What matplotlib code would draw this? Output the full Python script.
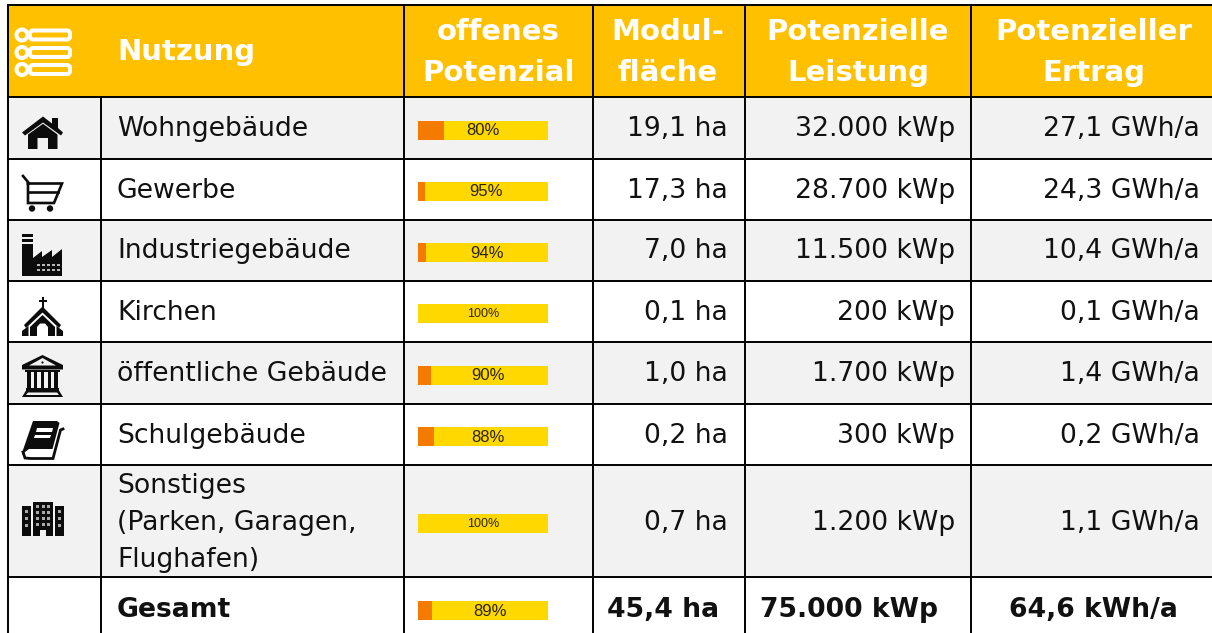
import matplotlib
matplotlib.use('Agg')
import matplotlib.pyplot as plt
from matplotlib.patches import Polygon, Circle, Rectangle, FancyBboxPatch

# Daten
nutzung = ['Wohngebäude', 'Gewerbe', 'Industriegebäude', 'Kirchen', 'öffentliche Gebäude',
           'Schulgebäude', 'Sonstiges\n(Parken, Garagen,\nFlughafen)']
offen = [80, 95, 94, 100, 90, 88, 100]
flaeche = ['19,1 ha', '17,3 ha', '7,0 ha', '0,1 ha', '1,0 ha', '0,2 ha', '0,7 ha']
leistung = ['32.000 kWp', '28.700 kWp', '11.500 kWp', '200 kWp', '1.700 kWp', '300 kWp', '1.200 kWp']
ertrag = ['27,1 GWh/a', '24,3 GWh/a', '10,4 GWh/a', '0,1 GWh/a', '1,4 GWh/a', '0,2 GWh/a', '1,1 GWh/a']
gesamt = ['Gesamt', '45,4 ha', '75.000 kWp', '64,6 kWh/a']
gesamt_offen = 89
kopf = ['offenes\nPotenzial', 'Modul-\nfläche', 'Potenzielle\nLeistung', 'Potenzieller\nErtrag']

# Layout in Pixeln
spalten = [8, 100.5, 404, 593, 745, 971, 1212]
zeilen = [97, 158.5, 220, 281, 342, 403.5, 464.5, 577, 633]
basis = [136, 198, 258, 320, 381, 443, 493, 617]
kopf_x = [498.5, 668, 858, 1094]
label_x = [483, 486, 487, 483, 488, 488, 483, 490]
TXT = '#111111'
DUNKEL = '#0c0c0c'
FS = 19.2
FS_KOPF = 21
FS_GES = 19.2

fig = plt.figure(figsize=(12.12, 6.33), dpi=100)
ax = fig.add_axes([0, 0, 1, 1])
ax.set_xlim(0, 1212)
ax.set_ylim(633, 0)
ax.axis('off')

# Hintergruende
ax.add_patch(Rectangle((8, 5), 1204, 92, fc='#FFC000', ec='none', zorder=0))
for i in (0, 2, 4, 6):
    ax.add_patch(Rectangle((8, zeilen[i]), 1204, zeilen[i + 1] - zeilen[i], fc='#F2F2F2', ec='none', zorder=0))

# Gitter
ax.plot([8, 1212], [5, 5], color='k', lw=1.4, zorder=3)
for y in zeilen[:-1]:
    ax.plot([8, 1212], [y, y], color='k', lw=1.4, zorder=3)
for x in spalten[:-1]:
    y0 = 97 if x == 100.5 else 5
    ax.plot([x, x], [y0, 633], color='k', lw=1.4, zorder=3)

# Kopf
ax.text(117, 60, 'Nutzung', color='white', fontsize=FS_KOPF, fontweight='bold')
for x, t in zip(kopf_x, kopf):
    a, b = t.split('\n')
    ax.text(x, 40, a, color='white', fontsize=FS_KOPF, fontweight='bold', ha='center')
    ax.text(x, 81, b, color='white', fontsize=FS_KOPF, fontweight='bold', ha='center')

# Zeilen
for i, name in enumerate(nutzung):
    if '\n' in name:
        for k, t in enumerate(name.split('\n')):
            ax.text(117, basis[i] + k * 37, t, color=TXT, fontsize=FS)
        yb = 530
    else:
        ax.text(117, basis[i], name, color=TXT, fontsize=FS)
        yb = basis[i]
    ax.text(728, yb, flaeche[i], color=TXT, fontsize=FS, ha='right')
    ax.text(955, yb, leistung[i], color=TXT, fontsize=FS, ha='right')
    ax.text(1200, yb, ertrag[i], color=TXT, fontsize=FS, ha='right')

ax.text(117, 617, gesamt[0], color=TXT, fontsize=FS_GES, fontweight='bold')
ax.text(663, 617, gesamt[1], color=TXT, fontsize=FS_GES, fontweight='bold', ha='center')
ax.text(849, 617, gesamt[2], color=TXT, fontsize=FS_GES, fontweight='bold', ha='center')
ax.text(1093, 617, gesamt[3], color=TXT, fontsize=FS_GES, fontweight='bold', ha='center')

# Balken
werte = offen + [gesamt_offen]
bar_y = [130, 191.5, 252.5, 313.5, 375, 436.5, 523.5, 610.5]
ax.barh(bar_y, [130] * 8, left=418, height=19, color='#FFD800', zorder=2)
ax.barh(bar_y, [(100 - w) * 1.3 for w in werte], left=418, height=19, color='#F47A00', zorder=2)
for x, y, w in zip(label_x, bar_y, werte):
    ax.text(x, y + 0.5, f'{w}%', color='#2a2400', ha='center', va='center', zorder=4,
            fontsize=9 if w == 100 else 12, family='Liberation Sans')


def poly(pts, fc=DUNKEL):
    ax.add_patch(Polygon(pts, closed=True, fc=fc, ec='none', zorder=4))


def rect(x, y, w, h, fc=DUNKEL):
    ax.add_patch(Rectangle((x, y), w, h, fc=fc, ec='none', zorder=4))


def linie(xs, ys, lw=1.9):
    ax.plot(xs, ys, color=DUNKEL, lw=lw, zorder=4, solid_joinstyle='miter')


# Icon Kopf
for y in (35, 52.5, 69.5):
    ax.add_patch(FancyBboxPatch((32, y - 2.5), 36, 5, boxstyle='round,pad=2,rounding_size=3',
                                fc='none', ec='white', lw=2.9, zorder=4))
    ax.add_patch(Circle((22, y), 5.5, fc='#FFC000', ec='white', lw=2.9, zorder=5))

# Haus
poly([(22, 132.5), (43, 116.5), (52, 123.5), (52, 118), (58, 118), (58, 128), (63, 132.5), (61, 135.5),
      (43, 122.5), (25, 135.5)])
poly([(28, 134.5), (43, 123.8), (57.5, 134.5), (57.5, 149), (48, 149), (48, 138), (37.5, 138), (37.5, 149), (28, 149)])

# Einkaufswagen
linie([23, 28, 28, 54, 62, 28], [176, 182, 203, 203, 183.5, 183.5])
linie([28, 58], [192, 192])
ax.add_patch(Circle((32, 208.5), 3.2, fc=DUNKEL, ec='none', zorder=4))
ax.add_patch(Circle((50, 208.5), 3.2, fc=DUNKEL, ec='none', zorder=4))

# Fabrik
rect(22, 234, 11, 3)
rect(22, 239, 11, 3)
poly([(22, 244), (33, 244), (33, 258), (42, 251), (42, 257), (52, 250), (52, 257), (62, 249), (62, 276), (22, 276)])
for y in (264, 268.5):
    for x in (37, 42, 47, 52, 57):
        rect(x, y, 3, 2.2, fc='#B8B8B8')

# Kirche
rect(41.5, 297, 2.4, 11)
rect(38.5, 300, 8, 2.2)
poly([(42.5, 306.5), (61, 325), (59, 328), (42.5, 312.5), (26, 328), (24, 325)])
poly([(42.5, 315), (55, 327), (55, 336), (48, 336), (48, 327), (45, 323.5), (40, 323.5), (37, 327), (37, 336),
      (30, 336), (30, 327)])
poly([(22, 336), (22, 331), (28.5, 326), (28.5, 336)])
poly([(63, 336), (63, 331), (56.5, 326), (56.5, 336)])

# Oeffentliches Gebaeude
poly([(42.5, 355), (63, 365), (63, 369.5), (22, 369.5), (22, 365)])
poly([(42.5, 358), (56, 365.5), (29, 365.5)], fc='#F2F2F2')
ax.add_patch(Circle((42.5, 362.5), 1.1, fc=DUNKEL, ec='none', zorder=5))
for x in (27, 33.5, 40.5, 47.5, 54):
    rect(x, 371, 3.8, 17)
rect(25, 370, 35, 2)
rect(26, 387.5, 33, 3)
poly([(26, 390.5), (59, 390.5), (63, 397), (22, 397)])
poly([(28, 392.5), (57, 392.5), (59, 395), (26, 395)], fc='#F2F2F2')

# Buch
poly([(33, 421), (57, 421), (59.5, 423), (52.5, 449), (29, 449), (25, 452), (22.5, 455), (23, 450)])
poly([(37, 428), (53, 428), (52, 432), (36, 432)], fc='white')
poly([(35, 435), (51, 435), (50, 438), (34, 438)], fc='white')
linie([23, 25, 31, 53, 60.5, 63], [452, 458, 458.5, 458.5, 430, 429], lw=2)

# Hochhaus
rect(22, 506, 8.7, 30)
rect(33, 501.5, 20, 34.5)
rect(55, 506, 8.7, 30)
for x in (25, 58):
    for y in (510, 517, 524):
        rect(x, y, 3, 3, fc='#AAAAAA')
for x in (36, 41.5, 47):
    for y in (505, 511, 517, 523):
        rect(x, y, 3, 3, fc='#AAAAAA')
rect(40, 530, 6, 6, fc='#F2F2F2')

plt.savefig('out.png', dpi=100)
